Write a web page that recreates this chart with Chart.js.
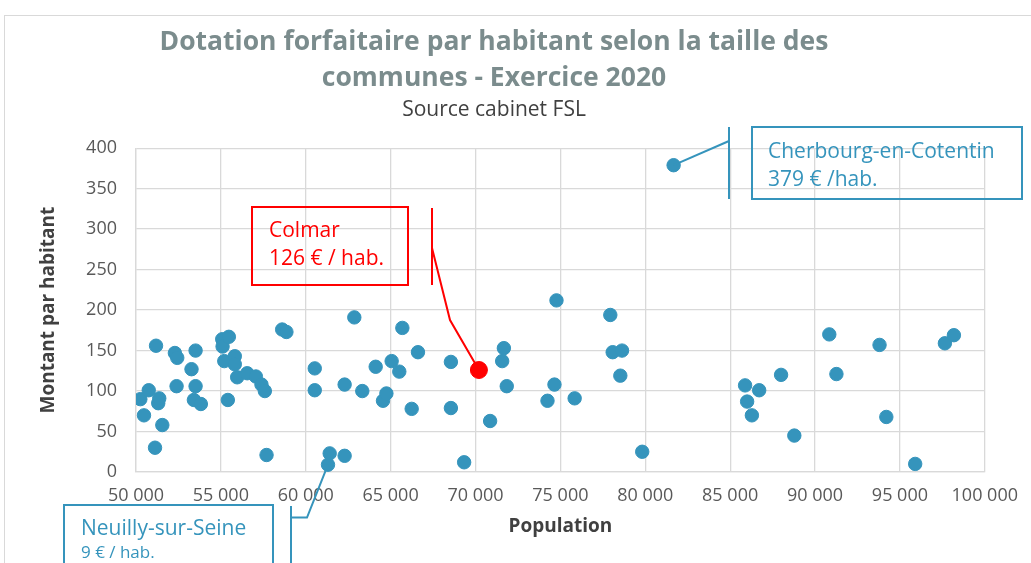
<!DOCTYPE html>
<html lang="fr">
<head>
<meta charset="utf-8">
<title>Dotation forfaitaire par habitant</title>
<script src="https://cdn.jsdelivr.net/npm/chart.js@4.4.1/dist/chart.umd.min.js"></script>
<style>
    html, body { margin: 0; padding: 0; background: #ffffff; }
    #wrap { position: relative; width: 1031px; height: 563px; }
</style>
</head>
<body>
<div id="wrap"><canvas id="chart"></canvas></div>
<script>
// Communes de 50 000 a 100 000 habitants (population, dotation en euros par habitant)
const populations = [
    50255, 50470, 50750, 51120, 51180, 51310, 51370, 51550, 52290, 52390,
    52430, 53270, 53410, 53510, 53510, 53820, 55080, 55100, 55200, 55410,
    55470, 55820, 55820, 55960, 56550, 57060, 57390, 57590, 57690, 58610,
    58860, 60530, 60530, 61310, 61410, 62290, 62290, 62860, 63330, 64120,
    64550, 64750, 65060, 65510, 65690, 66240, 66610, 68550, 68550, 69330,
    70860, 71570, 71670, 71840, 74240, 74650, 74770, 75840, 77940, 78080,
    78530, 78630, 79820, 81670, 85880, 86000, 86280, 86710, 88000, 88780,
    90840, 91260, 93800, 94200, 95900, 97650, 98180
];
const montants = [
    90, 70, 101, 30, 156, 85, 91, 58, 147, 106,
    141, 127, 89, 150, 106, 84, 164, 155, 137, 89,
    167, 143, 133, 117, 122, 118, 108, 100, 21, 176,
    173, 128, 101, 9, 23, 108, 20, 191, 100, 130,
    88, 97, 137, 124, 178, 78, 148, 136, 79, 12,
    63, 137, 153, 106, 88, 108, 212, 91, 194, 148,
    119, 150, 25, 379, 107, 87, 70, 101, 120, 45,
    170, 121, 157, 68, 10, 159, 169
];

// Colmar, mis en evidence
const colmarPopulation = [70200];
const colmarMontant = [126];

// Axes
const xMin = 50000, xMax = 100000, xStep = 5000;
const yMin = 0, yMax = 400, yStep = 50;

const titleLines = ['Dotation forfaitaire par habitant selon la taille des', 'communes - Exercice 2020'];
const subtitleText = 'Source cabinet FSL';

const BLUE = '#3594bc';
const RED = '#ff0000';
const FONT = "'Open Sans', 'DejaVu Sans', sans-serif";

// Bulles de commentaire (boite, barre verticale, trait vers le point)
const callouts = [
    {
        name: 'Cherbourg-en-Cotentin', pop: 81670, value: 379, color: BLUE,
        box: [752, 127, 1022, 199], bar: [729, 127, 199], leader: [[729, 141]],
        textX: 768,
        lines: [
            { text: 'Cherbourg-en-Cotentin', y: 158, size: 21 },
            { text: '379 € /hab.', y: 186, size: 21 }
        ]
    },
    {
        name: 'Colmar', pop: 70200, value: 126, color: RED,
        box: [252, 207, 408, 285], bar: [432, 208, 285], leader: [[432, 248], [450, 320]],
        textX: 269,
        lines: [
            { text: 'Colmar', y: 237, size: 21 },
            { text: '126 € / hab.', y: 265, size: 21 }
        ]
    },
    {
        name: 'Neuilly-sur-Seine', pop: 61310, value: 9, color: BLUE,
        box: [64, 505, 273, 600], bar: [291, 506, 600], leader: [[291, 517.5], [307, 517.5]],
        textX: 81,
        lines: [
            { text: 'Neuilly-sur-Seine', y: 535, size: 21 },
            { text: '9 € / hab.', y: 558, size: 17 }
        ]
    }
];

const scatterPoints = populations.map((p, i) => ({ x: p, y: montants[i] }));
const colmarPoints = colmarPopulation.map((p, i) => ({ x: p, y: colmarMontant[i] }));

function formatMilliers(v) {
    return String(v).replace(/\B(?=(\d{3})+(?!\d))/g, ' ');
}

const calloutPlugin = {
    id: 'callouts',
    beforeDraw(chart) {
        const ctx = chart.ctx;
        ctx.save();
        ctx.fillStyle = '#ffffff';
        ctx.fillRect(0, 0, chart.width, chart.height);
        // cadre du graphique
        ctx.strokeStyle = '#d9d9d9';
        ctx.lineWidth = 1;
        ctx.strokeRect(4.5, 15.5, chart.width + 20, chart.height + 20);
        ctx.restore();
    },
    afterDraw(chart) {
        const ctx = chart.ctx;
        const xs = chart.scales.x, ys = chart.scales.y;
        callouts.forEach(c => {
            const px = xs.getPixelForValue(c.pop);
            const py = ys.getPixelForValue(c.value);
            ctx.save();
            ctx.strokeStyle = c.color;
            ctx.lineWidth = 2;
            ctx.strokeRect(c.box[0], c.box[1], c.box[2] - c.box[0], c.box[3] - c.box[1]);

            ctx.beginPath();
            ctx.moveTo(c.bar[0], c.bar[1]);
            ctx.lineTo(c.bar[0], c.bar[2]);
            ctx.stroke();

            ctx.beginPath();
            ctx.moveTo(c.leader[0][0], c.leader[0][1]);
            for (let i = 1; i < c.leader.length; i++) {
                ctx.lineTo(c.leader[i][0], c.leader[i][1]);
            }
            ctx.lineTo(px, py);
            ctx.stroke();

            ctx.fillStyle = c.color;
            ctx.textBaseline = 'alphabetic';
            ctx.textAlign = 'left';
            c.lines.forEach(l => {
                ctx.font = `${l.size}px ${FONT}`;
                ctx.fillText(l.text, c.textX, l.y);
            });
            ctx.restore();
        });
    }
};

const ctx = document.getElementById('chart').getContext('2d');
new Chart(ctx, {
    type: 'scatter',
    data: {
        datasets: [
            {
                label: 'Colmar',
                data: colmarPoints,
                backgroundColor: RED,
                borderColor: RED,
                pointRadius: 8.5,
                pointHoverRadius: 8.5,
                order: 0
            },
            {
                label: 'Communes',
                data: scatterPoints,
                backgroundColor: BLUE,
                borderColor: BLUE,
                pointRadius: 6.7,
                pointHoverRadius: 6.7,
                order: 1
            }
        ]
    },
    options: {
        responsive: true,
        maintainAspectRatio: false,
        animation: false,
        layout: {
            padding: { left: 2, right: 45, top: 0, bottom: 0 }
        },
        plugins: {
            legend: { display: false },
            tooltip: { enabled: false },
            title: {
                display: true,
                text: titleLines,
                color: '#7b8c8d',
                font: { family: FONT, size: 26.5, weight: 'bold', lineHeight: 36 / 26.5 },
                padding: { top: 24, bottom: 0 }
            },
            subtitle: {
                display: true,
                text: subtitleText,
                color: '#404040',
                font: { family: FONT, size: 21, weight: 'normal', lineHeight: 1.2 },
                padding: { top: 1, bottom: 26 }
            }
        },
        scales: {
            x: {
                type: 'linear',
                min: xMin,
                max: xMax,
                afterFit(scale) { scale.height = 91; },
                grid: {
                    color: '#d9d9d9',
                    lineWidth: 1.3,
                    drawTicks: false
                },
                border: { color: '#d9d9d9', width: 1.3 },
                ticks: {
                    stepSize: xStep,
                    color: '#595959',
                    padding: 13,
                    maxRotation: 0,
                    font: { family: FONT, size: 18 },
                    callback: v => formatMilliers(v)
                },
                title: {
                    display: true,
                    text: 'Population',
                    color: '#404040',
                    font: { family: FONT, size: 19, weight: 'bold', lineHeight: 1.2 },
                    padding: { top: 4, bottom: 25 }
                }
            },
            y: {
                min: yMin,
                max: yMax,
                afterFit(scale) { scale.width = 134; },
                grid: {
                    color: '#d9d9d9',
                    lineWidth: 1.3,
                    drawTicks: false
                },
                border: { color: '#d9d9d9', width: 1.3 },
                ticks: {
                    stepSize: yStep,
                    color: '#595959',
                    padding: 19,
                    font: { family: FONT, size: 18 }
                },
                title: {
                    display: true,
                    text: 'Montant par habitant',
                    color: '#404040',
                    font: { family: FONT, size: 19, weight: 'bold', lineHeight: 1.2 },
                    padding: { top: 35, bottom: 0 }
                }
            }
        }
    },
    plugins: [calloutPlugin]
});
</script>
</body>
</html>
